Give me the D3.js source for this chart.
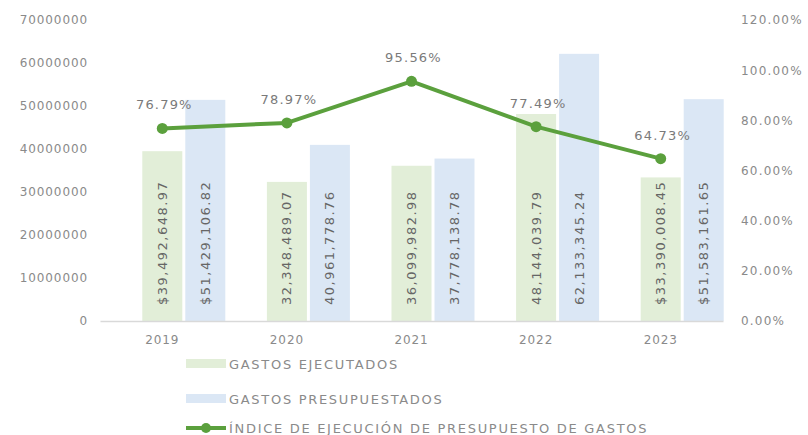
<!DOCTYPE html>
<html><head><meta charset="utf-8">
<script src="https://cdn.jsdelivr.net/npm/d3@7"></script>
<style>
html,body{margin:0;padding:0;background:#fff;}
text{font-family:"DejaVu Sans",sans-serif;}
</style></head>
<body><svg id="c" width="808" height="435"></svg>
<script>
const years = ["2019","2020","2021","2022","2023"];
const ejecutados = [39492648.97, 32348489.07, 36099982.98, 48144039.79, 33390008.45];
const presupuestados = [51429106.82, 40961778.76, 37778138.78, 62133345.24, 51583161.65];
const indice = [76.79, 78.97, 95.56, 77.49, 64.73];
const ejecLabels = ["$39,492,648.97","32,348,489.07","36,099,982.98","48,144,039.79","$33,390,008.45"];
const presLabels = ["$51,429,106.82","40,961,778.76","37,778,138.78","62,133,345.24","$51,583,161.65"];
const leftTicks = [0,10000000,20000000,30000000,40000000,50000000,60000000,70000000];
const rightTicks = [0,20,40,60,80,100,120];
const seriesNames = ["GASTOS EJECUTADOS","GASTOS PRESUPUESTADOS","ÍNDICE DE EJECUCIÓN DE PRESUPUESTO DE GASTOS"];

const svg = d3.select("#c");
const x = d3.scaleBand().domain(years).range([100,723]);
const yL = d3.scaleLinear().domain([0,70000000]).range([321,20]);
const yR = d3.scaleLinear().domain([0,120]).range([321,20]);
const green="#e2eed8", blue="#dbe7f5", lineC="#5ba03d", axisC="#8a8a8a", labC="#666666", pctC="#7a7a7a";
const bw = 40, gap = 3;
const cx = d => x(d) + x.bandwidth()/2;

// left axis
const gl = svg.append("g").attr("transform","translate(88,0)")
  .call(d3.axisLeft(yL).tickValues(leftTicks).tickFormat(d3.format("d")).tickSize(0).tickPadding(0));
gl.select(".domain").remove();
gl.selectAll("text").attr("fill",axisC).attr("font-size",12).attr("letter-spacing","0.9px");

// right axis
const gr = svg.append("g").attr("transform","translate(741,0)")
  .call(d3.axisRight(yR).tickValues(rightTicks).tickFormat(d=>d.toFixed(2)+"%").tickSize(0).tickPadding(0));
gr.select(".domain").remove();
gr.selectAll("text").attr("fill",axisC).attr("font-size",12).attr("letter-spacing","1.2px");

// bars
svg.append("g").selectAll("rect").data(years).join("rect")
  .attr("x",(d)=>cx(d)-bw/2).attr("width",bw)
  .attr("y",(d,i)=>yL(ejecutados[i])).attr("height",(d,i)=>yL(0)-yL(ejecutados[i]))
  .attr("fill",green);
svg.append("g").selectAll("rect").data(years).join("rect")
  .attr("x",(d)=>cx(d)+bw/2+gap).attr("width",bw)
  .attr("y",(d,i)=>yL(presupuestados[i])).attr("height",(d,i)=>yL(0)-yL(presupuestados[i]))
  .attr("fill",blue);

// bar labels
const lab = (arr, off) => svg.append("g").selectAll("text").data(years).join("text")
  .attr("transform",d=>`translate(${cx(d)+off+4.5},${yL(0)-16}) rotate(-90)`)
  .attr("font-size",13).attr("letter-spacing","1.5px").attr("fill",labC)
  .text((d,i)=>arr[i]);
lab(ejecLabels, 0);
lab(presLabels, bw+gap);

// x axis
const gx = svg.append("g").attr("transform","translate(0,321)")
  .call(d3.axisBottom(x).tickSize(0).tickPadding(14));
gx.select(".domain").attr("stroke","#d9d9d9").attr("stroke-width",1.5);
gx.selectAll("text").attr("fill",axisC).attr("font-size",12).attr("letter-spacing","0.9px");

// line
const line = d3.line().x((d,i)=>cx(years[i])).y(d=>yR(d));
svg.append("path").datum(indice).attr("d",line).attr("fill","none")
  .attr("stroke",lineC).attr("stroke-width",4).attr("stroke-linejoin","round");
svg.append("g").selectAll("circle").data(indice).join("circle")
  .attr("cx",(d,i)=>cx(years[i])).attr("cy",d=>yR(d)).attr("r",5.5).attr("fill",lineC);
svg.append("g").selectAll("text").data(indice).join("text")
  .attr("x",(d,i)=>cx(years[i])+2).attr("y",d=>yR(d)-19)
  .attr("text-anchor","middle").attr("font-size",13).attr("letter-spacing","1.2px").attr("fill",pctC)
  .text(d=>d.toFixed(2)+"%");

// legend
const lg = svg.append("g");
const ly = [364, 399, 428];
lg.append("rect").attr("x",186).attr("y",ly[0]-5).attr("width",40).attr("height",9).attr("fill",green);
lg.append("rect").attr("x",186).attr("y",ly[1]-5).attr("width",40).attr("height",9).attr("fill",blue);
lg.append("line").attr("x1",186).attr("x2",226).attr("y1",ly[2]).attr("y2",ly[2]).attr("stroke",lineC).attr("stroke-width",4);
lg.append("circle").attr("cx",206).attr("cy",ly[2]).attr("r",5).attr("fill",lineC);
lg.selectAll("text").data(seriesNames).join("text")
  .attr("x",229).attr("y",(d,i)=>ly[i]).attr("dy","0.36em")
  .attr("font-size",13).attr("letter-spacing","1.7px").attr("fill",axisC).text(d=>d);
</script></body></html>
